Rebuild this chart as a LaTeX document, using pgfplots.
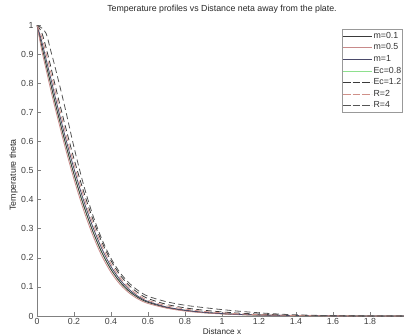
\documentclass[border=0pt]{standalone}
\usepackage{pgfplots}
\pgfplotsset{compat=1.18}
\usepackage{fontspec}
\setmainfont{Liberation Sans}
\definecolor{cA}{HTML}{3A3A3A}
\definecolor{cB}{HTML}{C88A8A}
\definecolor{cC}{HTML}{4A4A6A}
\definecolor{cD}{HTML}{8EE08E}
\definecolor{cE}{HTML}{3A3A3A}
\definecolor{cF}{HTML}{D09088}
\definecolor{cG}{HTML}{555555}
\begin{document}
\begin{tikzpicture}
\begin{axis}[
  scale only axis, width=370pt, height=291pt,
  xmin=0, xmax=2, ymin=0, ymax=1,
  axis x line*=bottom, axis y line*=left,
  x axis line style={-}, y axis line style={-},
  axis line style={draw=black!50, line width=0.5pt},
  tick style={draw=black!50, line width=0.5pt},
  tick align=inside, major tick length=4pt,
  xtick={0,0.2,0.4,0.6,0.8,1,1.2,1.4,1.6,1.8},
  ytick={0,0.1,0.2,0.3,0.4,0.5,0.6,0.7,0.8,0.9,1},
  /pgf/number format/assume math mode=true,
  /pgf/number format/fixed,
  tick label style={font=\fontsize{8.8}{10}\selectfont, text=black!75},
  xticklabel style={yshift=1pt},
  title={Temperature profiles vs Distance neta away from the plate.},
  title style={at={(axis description cs:0.5,1)}, anchor=base, yshift=7pt, font=\fontsize{8.8}{10}\selectfont, text=black!85},
  xlabel={Distance x},
  xlabel style={at={(axis description cs:0.5,0)}, anchor=base, inner sep=0pt, yshift=-18.3pt, font=\fontsize{8.2}{9}\selectfont, text=black!85},
  ylabel={Temperature theta},
  ylabel style={at={(axis description cs:-0.0635,0.485)}, anchor=center, font=\fontsize{8.8}{10}\selectfont, text=black!85},
  legend style={at={(axis description cs:0.989,0.986)}, anchor=north east,
    draw=black!40, line width=0.5pt, inner xsep=0pt, inner ysep=1pt,
    font=\fontsize{8.8}{10}\selectfont, text=black!80,
    nodes={inner xsep=1.5pt, inner ysep=1.75pt, text height=6.3pt, text depth=1.8pt},
    row sep=0pt, column sep=0pt},
  legend cell align=left,
  legend image code/.code={\path (-1.5pt,0pt) -- (27pt,0pt); \draw[#1] (0pt,0pt) -- (25pt,0pt);},
  every axis plot/.append style={line width=0.8pt, smooth},
]
\coordinate (sw) at (rel axis cs:0,0);
% Ec=0.8 drawn first (hidden under m=0.1)
\addplot[cD, forget plot] table {
0 1.000
0.025 0.93
0.05 0.862
0.075 0.795
0.1 0.728
0.15 0.603
0.2 0.487
0.25 0.384
0.3 0.294
0.35 0.219
0.4 0.160
0.45 0.116
0.5 0.084
0.55 0.062
0.6 0.047
0.7 0.029
0.8 0.019
0.9 0.012
1.0 0.008
1.1 0.005
1.2 0.0035
1.3 0.0022
1.4 0.0012
1.6 0.0005
1.8 0.0001
2.0 0
};
% m=0.1
\addplot[cA] table {
0 1.000
0.025 0.93
0.05 0.862
0.075 0.795
0.1 0.728
0.15 0.603
0.2 0.487
0.25 0.384
0.3 0.294
0.35 0.219
0.4 0.160
0.45 0.116
0.5 0.084
0.55 0.062
0.6 0.047
0.7 0.029
0.8 0.019
0.9 0.012
1.0 0.008
1.1 0.005
1.2 0.0035
1.3 0.0022
1.4 0.0012
1.6 0.0005
1.8 0.0001
2.0 0
};
\addlegendentry{m=0.1}
% m=0.5
\addplot[cB] table {
0 1.000
0.025 0.915
0.05 0.845
0.075 0.775
0.1 0.710
0.15 0.585
0.2 0.470
0.25 0.368
0.3 0.280
0.35 0.207
0.4 0.150
0.45 0.108
0.5 0.078
0.55 0.057
0.6 0.043
0.7 0.027
0.8 0.017
0.9 0.011
1.0 0.007
1.1 0.0045
1.2 0.003
1.3 0.002
1.4 0.001
1.6 0.0004
1.8 0.0001
2.0 0
};
\addlegendentry{m=0.5}
% m=1
\addplot[cC] table {
0 1.000
0.025 0.945
0.05 0.88
0.075 0.815
0.1 0.748
0.15 0.622
0.2 0.506
0.25 0.401
0.3 0.309
0.35 0.232
0.4 0.170
0.45 0.124
0.5 0.090
0.55 0.066
0.6 0.050
0.7 0.031
0.8 0.020
0.9 0.013
1.0 0.0085
1.1 0.0055
1.2 0.0037
1.3 0.0024
1.4 0.0013
1.6 0.0005
1.8 0.0001
2.0 0
};
\addlegendentry{m=1}
\addlegendimage{cD, line width=0.8pt}
\addlegendentry{Ec=0.8}
% Ec=1.2
\addplot[cE, dash pattern=on 6pt off 3.5pt] table {
0 1.000
0.025 0.975
0.05 0.92
0.075 0.855
0.1 0.788
0.15 0.66
0.2 0.54
0.25 0.432
0.3 0.336
0.35 0.255
0.4 0.19
0.45 0.14
0.5 0.104
0.55 0.078
0.6 0.06
0.7 0.04
0.8 0.028
0.9 0.020
1.0 0.014
1.1 0.0095
1.2 0.0065
1.3 0.0042
1.4 0.0025
1.6 0.0008
1.8 0.0002
2.0 0
};
\addlegendentry{Ec=1.2}
% R=2
\addplot[cF, dash pattern=on 6pt off 3.5pt] table {
0 1.000
0.025 0.96
0.05 0.9
0.075 0.835
0.1 0.768
0.15 0.64
0.2 0.522
0.25 0.416
0.3 0.322
0.35 0.243
0.4 0.179
0.45 0.131
0.5 0.096
0.55 0.071
0.6 0.054
0.7 0.035
0.8 0.024
0.9 0.016
1.0 0.011
1.1 0.007
1.2 0.0048
1.3 0.003
1.4 0.0018
1.6 0.0006
1.8 0.0002
2.0 0
};
\addlegendentry{R=2}
% R=4
\addplot[cG, dash pattern=on 6pt off 3.5pt] table {
0 1.000
0.025 0.99
0.05 0.97
0.075 0.91
0.1 0.85
0.15 0.72
0.2 0.58
0.25 0.455
0.3 0.35
0.35 0.265
0.4 0.198
0.45 0.148
0.5 0.112
0.55 0.086
0.6 0.068
0.7 0.049
0.8 0.037
0.9 0.029
1.0 0.022
1.1 0.016
1.2 0.011
1.3 0.007
1.4 0.004
1.6 0.0012
1.8 0.0003
2.0 0
};
\addlegendentry{R=4}
\end{axis}
\pgfresetboundingbox
\path[use as bounding box] ([shift={(-37pt,-19pt)}]sw) rectangle ([shift={(367pt,316pt)}]sw);
\end{tikzpicture}
\end{document}
